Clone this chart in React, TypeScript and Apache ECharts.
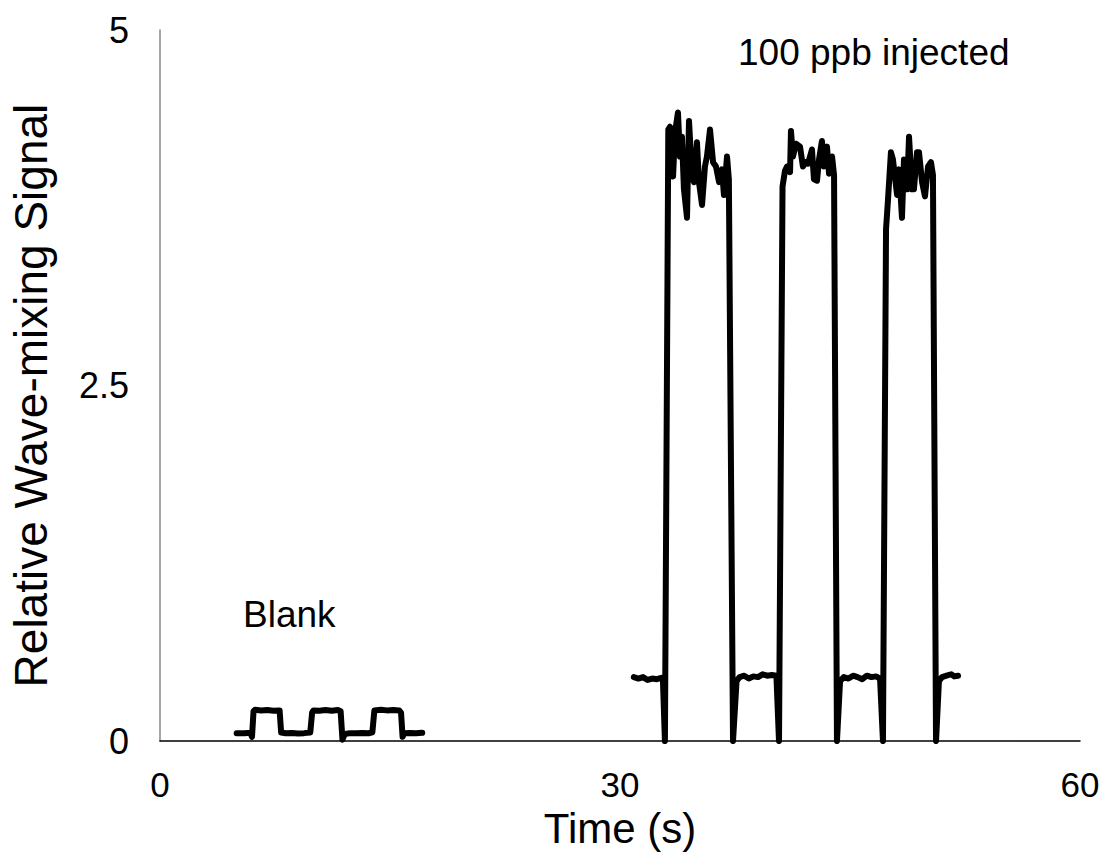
import React, { useEffect, useRef } from "react";
import * as echarts from "echarts";

// Blank run (time in s, relative signal)
const blankTime = [
  5.0, 5.5, 5.9, 6.0, 6.1, 6.2, 6.6, 7.0, 7.4, 7.8, 7.9, 8.2, 8.6, 9.0, 9.4, 9.8,
  9.92, 10.0, 10.4, 10.8, 11.2, 11.6, 11.78, 11.9, 12.05, 12.4, 12.8, 13.2, 13.6,
  13.85, 13.98, 14.4, 14.8, 15.2, 15.6, 15.72, 15.82, 15.92, 16.3, 16.7, 17.1,
];
const blankSignal = [
  0.056, 0.055, 0.058, 0.03, 0.21, 0.22, 0.215, 0.218, 0.214, 0.216, 0.06, 0.055,
  0.057, 0.054, 0.056, 0.06, 0.2, 0.216, 0.214, 0.218, 0.213, 0.219, 0.21, 0.01,
  0.05, 0.056, 0.055, 0.057, 0.055, 0.062, 0.215, 0.22, 0.216, 0.218, 0.215, 0.2,
  0.03, 0.055, 0.057, 0.056, 0.058,
];

// 100 ppb injected run
const injTime = [
  30.9, 31.2, 31.5, 31.8, 32.1, 32.4, 32.7, 32.8, 32.93, 33.15, 33.26, 33.46, 33.59,
  33.78, 33.91, 34.04, 34.17, 34.37, 34.5, 34.7, 34.83, 35.02, 35.15, 35.35, 35.54,
  35.67, 35.87, 36.07, 36.26, 36.46, 36.65, 36.78, 36.98, 37.1, 37.37, 37.6, 37.8,
  38.1, 38.4, 38.7, 39.0, 39.3, 39.6, 39.9, 40.2, 40.37, 40.6, 40.76, 40.89, 41.09,
  41.15, 41.28, 41.48, 41.74, 41.93, 42.13, 42.26, 42.52, 42.65, 42.85, 42.98, 43.17,
  43.3, 43.5, 43.63, 43.83, 43.96, 44.15, 44.35, 44.6, 44.9, 45.2, 45.5, 45.8, 46.1,
  46.4, 46.7, 46.96, 47.15, 47.35, 47.48, 47.67, 47.8, 48.07, 48.2, 48.39, 48.52,
  48.72, 48.85, 49.04, 49.17, 49.37, 49.5, 49.7, 49.89, 50.09, 50.28, 50.41, 50.61,
  50.8, 51.0, 51.3, 51.6, 51.8, 52.05,
];
const injSignal = [
  0.45, 0.44, 0.45, 0.43, 0.44, 0.435, 0.445, 0.43, 0.0, 4.3, 4.32, 3.97, 4.28,
  4.42, 4.11, 4.25, 3.88, 3.68, 4.36, 3.97, 3.93, 4.21, 3.93, 3.77, 4.04,
  4.11, 4.3, 4.07, 4.04, 3.93, 4.02, 3.84, 4.11, 3.95, 0.0, 0.42, 0.45,
  0.46, 0.44, 0.455, 0.45, 0.47, 0.46, 0.465, 0.46, 0.0, 3.9, 4.01, 4.04, 4.0,
  4.29, 4.11, 4.2, 4.18, 4.04, 4.07, 4.06, 4.16, 3.95, 3.94, 4.09, 4.22,
  4.04, 4.18, 3.99, 4.11, 3.98, 0.0, 0.42, 0.45, 0.44, 0.46, 0.45, 0.435, 0.46,
  0.45, 0.455, 0.44, 0.0, 3.6, 3.81, 4.14, 4.09, 3.84, 4.02, 3.68, 4.09,
  3.88, 4.25, 3.88, 3.88, 4.14, 4.14, 3.93, 3.83, 4.04, 4.07, 3.98, 0.0,
  0.42, 0.45, 0.46, 0.47, 0.455, 0.46,
];

const xTicks = { min: 0, max: 60, interval: 30 };
const yTicks = { min: 0, max: 5, interval: 2.5 };

const annotations = [
  { text: "Blank", x: 243, y: 614 },
  { text: "100 ppb injected", x: 738, y: 52 },
];

const FONT = "'Liberation Sans', Arial, Helvetica, sans-serif";

export default function App() {
  const ref = useRef<HTMLDivElement>(null);

  useEffect(() => {
    document.body.style.margin = "0";
    const chart = echarts.init(ref.current!, undefined, { renderer: "svg" });
    const zip = (t: number[], v: number[]) => t.map((x, i) => [x, v[i]]);
    chart.setOption({
      animation: false,
      backgroundColor: "#ffffff",
      grid: { left: 160, right: 26, top: 30, bottom: 107, containLabel: false },
      xAxis: {
        type: "value",
        min: xTicks.min,
        max: xTicks.max,
        interval: xTicks.interval,
        name: "Time (s)",
        nameLocation: "middle",
        nameGap: 60,
        nameTextStyle: { fontSize: 42, color: "#000", fontFamily: FONT },
        axisLine: { show: true, lineStyle: { color: "#000", width: 1.5 } },
        axisTick: { show: false },
        splitLine: { show: false },
        axisLabel: { fontSize: 35, color: "#000", fontFamily: FONT, margin: 26 },
      },
      yAxis: {
        type: "value",
        min: yTicks.min,
        max: yTicks.max,
        interval: yTicks.interval,
        name: "Relative Wave-mixing Signal",
        nameLocation: "middle",
        nameGap: 106,
        nameTextStyle: {
          fontSize: 46,
          color: "#000",
          fontFamily: FONT,
          padding: [0, 20, 0, 0],
        },
        axisLine: { show: true, lineStyle: { color: "#888", width: 1.5 } },
        axisTick: { show: false },
        splitLine: { show: false },
        axisLabel: {
          fontSize: 36,
          color: "#000",
          fontFamily: FONT,
          margin: 31,
          formatter: (v: number) => String(v),
        },
      },
      graphic: annotations.map((a) => ({
        type: "text",
        x: a.x,
        y: a.y,
        style: {
          text: a.text,
          fontSize: 37,
          fontFamily: FONT,
          fill: "#000",
          textAlign: "left",
          verticalAlign: "middle",
        },
      })),
      series: [
        {
          name: "Blank",
          type: "line",
          data: zip(blankTime, blankSignal),
          showSymbol: false,
          symbol: "none",
          lineStyle: { color: "#000", width: 6, join: "round", cap: "round" },
          z: 3,
        },
        {
          name: "100 ppb injected",
          type: "line",
          data: zip(injTime, injSignal),
          showSymbol: false,
          symbol: "none",
          lineStyle: { color: "#000", width: 6, join: "round", cap: "round" },
          z: 3,
        },
      ],
    });
    return () => chart.dispose();
  }, []);

  return (
    <div
      ref={ref}
      style={{ position: "fixed", left: 0, top: 0, width: 1106, height: 854 }}
    />
  );
}
